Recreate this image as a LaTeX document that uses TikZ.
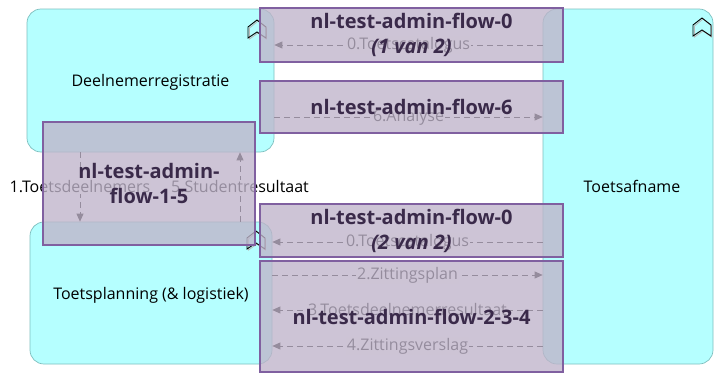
\documentclass[tikz,border=0pt]{standalone}
\usepackage{fontspec}
\setmainfont{Open Sans}
\usetikzlibrary{arrows.meta}
\definecolor{appfill}{RGB}{181,255,255}
\definecolor{appdraw}{RGB}{125,190,190}
\definecolor{ovfill}{RGB}{191,180,202}
\definecolor{ovdraw}{RGB}{128,96,160}
\definecolor{ovtext}{RGB}{58,42,74}
\begin{document}
\begin{tikzpicture}[x=1pt,y=-1pt,
  appbox/.style={draw=appdraw,fill=appfill,rounded corners=14pt,line width=0.7pt,
    font=\fontsize{16}{19}\selectfont,inner sep=0pt,text depth=0pt},
  conn/.style={draw=black,dash pattern=on 6pt off 4pt,line width=0.8pt,
    -{Triangle[length=8pt,width=7pt]}},
  clabel/.style={fill=white,inner sep=1pt,font=\fontsize{16}{19}\selectfont,text=black},
  ovbox/.style={draw=ovdraw,line width=1.6pt,fill=ovfill,fill opacity=0.78,
    text opacity=1,text=ovtext,font=\bfseries\fontsize{20}{25}\selectfont,
    align=center,inner sep=0pt},
  fnicon/.pic={
    \draw[gray!55,line width=0.8pt] (-7.5,10)--(-7.5,-1)--(1,-8)--(9.5,-1)--(9.5,10)--(1,4)--cycle;
    \draw[black,line width=0.9pt] (-9,9)--(-9,-2)--(0,-9)--(9,-2)--(9,9)--(0,3)--cycle;
  }]
\useasboundingbox (0,0) rectangle (714,372);

% application functions
\node[appbox,minimum width=247pt,minimum height=143pt] (reg) at (150.5,80.5) {Deelnemerregistratie};
\node[appbox,minimum width=170pt,minimum height=355pt] (afname) at (628,186.5) {\hspace*{8pt}Toetsafname};
\node[appbox,minimum width=242pt,minimum height=142pt] (plan) at (151,293) {Toetsplanning (\& logistiek)};

\pic at (257,29) {fnicon};
\pic at (702,27) {fnicon};
\pic at (256,240) {fnicon};

% helper coordinates
\coordinate (h0a) at (0,45);
\coordinate (h6) at (0,117);
\coordinate (h0b) at (0,242);
\coordinate (h2) at (0,275);
\coordinate (h3) at (0,310);
\coordinate (h4) at (0,346);
\coordinate (v1) at (80,0);
\coordinate (v5) at (240,0);

% flows
\draw[conn] (afname.west |- h0a) -- node[clabel] (l0a) {0.Toetscatalogus} (reg.east |- h0a);
\draw[conn] (reg.east |- h6) -- node[clabel] (l6) {6.Analyse} (afname.west |- h6);
\draw[conn] (reg.south -| v1) -- node[clabel] (l1) {1.Toetsdeelnemers} (plan.north -| v1);
\draw[conn] (plan.north -| v5) -- node[clabel] (l5) {5.Studentresultaat} (reg.south -| v5);
\draw[conn] (afname.west |- h0b) -- node[clabel] (l0b) {0.Toetscatalogus} (plan.east |- h0b);
\draw[conn] (plan.east |- h2) -- node[clabel] (l2) {2.Zittingsplan} (afname.west |- h2);
\draw[conn] (afname.west |- h3) -- node[clabel] (l3) {3.Toetsdeelnemerresultaat} (plan.east |- h3);
\draw[conn] (afname.west |- h4) -- node[clabel] (l4) {4.Zittingsverslag} (plan.east |- h4);

% overlays
\node[ovbox,minimum width=303pt,minimum height=54pt] (ov0a) at (411.5,35) {nl-test-admin-flow-0\\\textit{(1 van 2)}};
\node[ovbox,minimum width=303pt,minimum height=52pt] (ov6) at (411.5,107) {nl-test-admin-flow-6};
\node[ovbox,minimum width=212pt,minimum height=123pt] (ov15) at (149,183.5) {nl-test-admin-\\flow-1-5};
\node[ovbox,minimum width=303pt,minimum height=53pt] (ov0b) at (411.5,230.5) {nl-test-admin-flow-0\\\textit{(2 van 2)}};
\node[ovbox,minimum width=303pt,minimum height=111pt] (ov234) at (411.5,316.5) {nl-test-admin-flow-2-3-4};
\end{tikzpicture}
\end{document}
